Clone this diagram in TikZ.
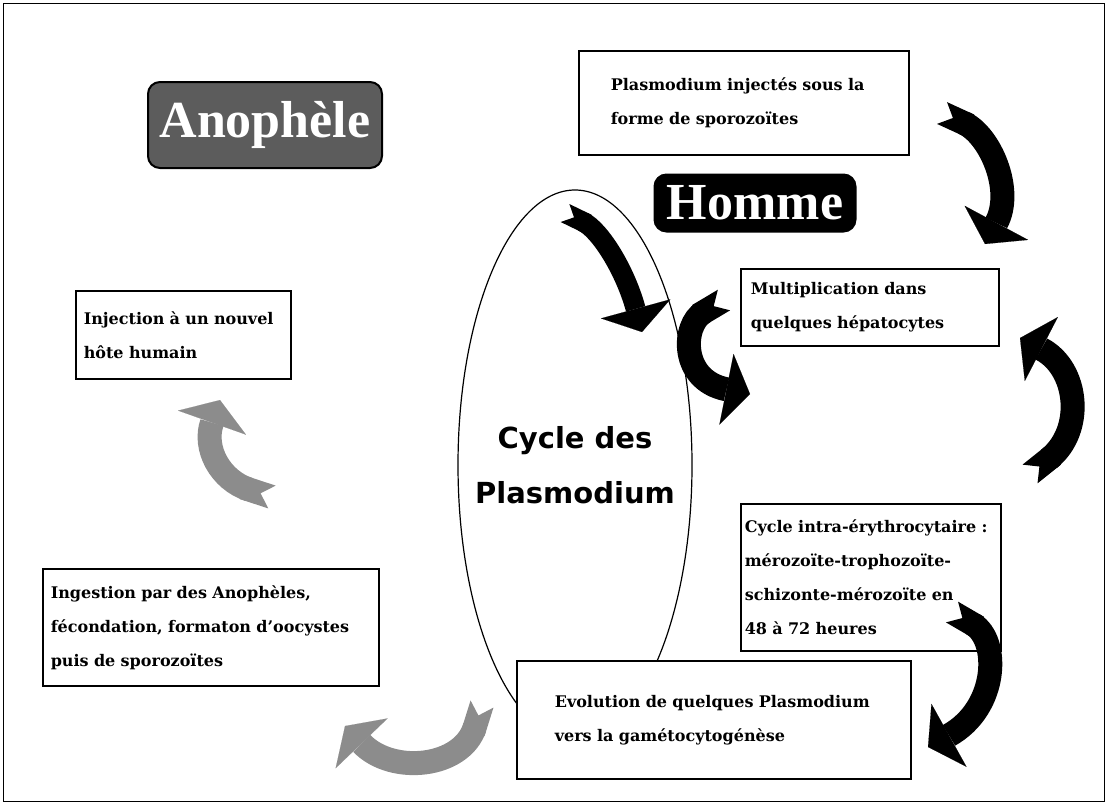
\documentclass[tikz,border=0pt]{standalone}
\usepackage{fontspec}
\setmainfont{DejaVu Serif}
\setsansfont{DejaVu Sans}
\newfontfamily\titlefont{Liberation Serif}
\usetikzlibrary{arrows.meta,shapes.geometric}
\definecolor{titlegray}{HTML}{5C5C5C}
\definecolor{arrowgray}{HTML}{8C8C8C}
\tikzset{
  stage/.style={draw=black,fill=white,line width=1.6pt,anchor=north west,align=left,
                inner ysep=0pt,font=\bfseries\fontsize{16}{34}\selectfont},
  title/.style={draw=black,line width=2pt,rounded corners=12pt,text=white,
                inner sep=0pt,font=\titlefont\bfseries\fontsize{52}{56}\selectfont},
  curly/.style={line width=24pt,
                {Triangle Cap[reversed]}-{Triangle[length=24pt,width=72pt,line width=0.1pt]}},
  darkcurly/.style={curly,draw=black},
  palecurly/.style={curly,draw=arrowgray}
}

\begin{document}
\begin{tikzpicture}[x=1pt,y=-1pt]
  \useasboundingbox (0,0) rectangle (1107,804);
  \draw[line width=1pt] (3,3) rectangle (1104,801);

  % titles
  \node[title,fill=titlegray,minimum width=234pt,minimum height=86pt] (anoph) at (265,125)
    {Anophèle};
  \node[title,fill=black,minimum width=201pt,minimum height=57pt] (homme) at (755,203)
    {Homme};

  % the cycle
  \node[draw,ellipse,line width=1.2pt,minimum width=234pt,minimum height=550pt,
        inner sep=0pt] (cycle) at (575,465) {};
  \node[align=center,font=\sffamily\bfseries\fontsize{29}{55}\selectfont]
        (cyclename) at (cycle.center) {Cycle des\\Plasmodium};

  % stages
  \node[stage,minimum height=104pt,text width=266pt,inner xsep=32pt] (inj) at (578,50)
    {Plasmodium injectés sous la\\forme de sporozoïtes};
  \node[stage,minimum height=77pt,text width=238pt,inner xsep=10pt] (mult) at (740,268)
    {Multiplication dans\\quelques hépatocytes};
  \node[stage,minimum height=147pt,text width=252pt,inner xsep=4pt] (eryth) at (740,503)
    {Cycle intra-érythrocytaire~:\\mérozoïte-trophozoïte-\\schizonte-mérozoïte en\\48 à 72 heures};
  \node[stage,minimum height=118pt,text width=318pt,inner xsep=38pt] (gameto) at (516,660)
    {Evolution de quelques Plasmodium\\vers la gamétocytogénèse};
  \node[stage,minimum height=117pt,text width=320pt,inner xsep=8pt] (ingest) at (42,568)
    {Ingestion par des Anophèles,\\fécondation, formaton d'oocystes\\puis de sporozoïtes};
  \node[stage,minimum height=88pt,text width=199pt,inner xsep=8pt] (newhost) at (75,290)
    {Injection à un nouvel\\hôte humain};

  % curved arrows
  \coordinate (a1) at (942,113);  \coordinate (a2) at (985,244);
  \coordinate (b1) at (565,213);  \coordinate (b2) at (642,332);
  \coordinate (c1) at (724,300);  \coordinate (c2) at (750,394);
  \coordinate (d1) at (1030,474); \coordinate (d2) at (1020,338);
  \coordinate (e1) at (952,612);  \coordinate (e2) at (928,747);
  \coordinate (f1) at (482,704);  \coordinate (f2) at (345,726);
  \coordinate (g1) at (272,497);  \coordinate (g2) at (220,400);

  \draw[darkcurly] (a1) .. controls (990,135) and (1014,190) .. (a2);
  \draw[darkcurly,line width=20pt] (b1) .. controls (600,230) and (625,270) .. (b2);
  \draw[darkcurly] (c1) .. controls (682,325) and (680,380) .. (c2);
  \draw[darkcurly] (d1) .. controls (1085,430) and (1078,368) .. (d2);
  \draw[darkcurly] (e1) .. controls (1000,640) and (998,708) .. (e2);
  \draw[palecurly] (f1) .. controls (462,768) and (392,775) .. (f2);
  \draw[palecurly] (g1) .. controls (220,480) and (203,448) .. (g2);
\end{tikzpicture}
\end{document}
